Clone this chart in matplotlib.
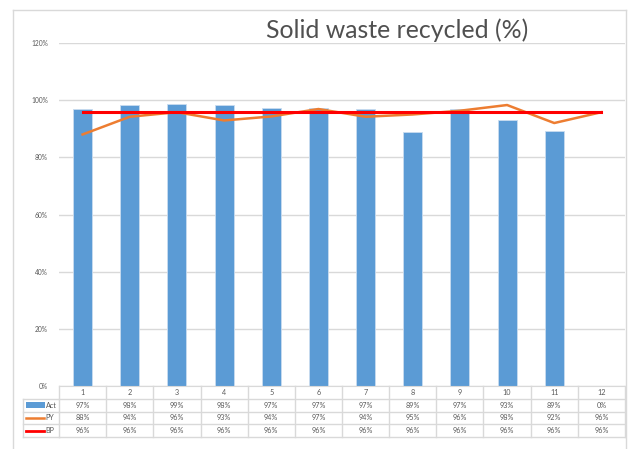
import numpy as np
from matplotlib import pyplot as plt
from matplotlib.transforms import blended_transform_factory
from matplotlib.lines import Line2D
from matplotlib.patches import Rectangle

plt.rcParams['font.family'] = ['Lato', 'DejaVu Sans']

# data
months = ['1', '2', '3', '4', '5', '6', '7', '8', '9', '10', '11', '12']
act = [96.9, 98.3, 98.6, 98.3, 97.2, 97.2, 96.9, 88.9, 97.0, 93.2, 89.2, 0.0]
py = [88.0, 94.2, 95.8, 92.9, 94.3, 96.9, 94.2, 95.0, 96.3, 98.3, 92.0, 95.8]
bp = [95.8] * 12
yticks = [0, 20, 40, 60, 80, 100, 120]

W, H = 631, 449
txt = '#595959'
grid = '#d9d9d9'

def fx(p):
    return p / W

def fy(p):
    return 1 - p / H

fig = plt.figure(figsize=(W / 100, H / 100), dpi=100)

# chart frame
fig.add_artist(Line2D([fx(13), fx(626)], [fy(10), fy(10)], color=grid, lw=1))
fig.add_artist(Line2D([fx(13), fx(13)], [fy(10), fy(452)], color=grid, lw=1))
fig.add_artist(Line2D([fx(626), fx(626)], [fy(10), fy(452)], color=grid, lw=1))

ax = fig.add_axes([fx(59), fy(386), fx(625) - fx(59), fy(43) - fy(386)])
x = np.arange(len(months))
ax.bar(x, act, width=0.4, color='#5B9BD5', edgecolor='#c9dcf0', linewidth=0.6, zorder=2)
ax.plot(x, py, color='#ED7D31', lw=1.8, zorder=3)
ax.plot(x, bp, color='#FF0000', lw=2.2, zorder=4)

ax.set_xlim(-0.5, len(months) - 0.5)
ax.set_ylim(0, 120)
ax.set_yticks(yticks)
ax.set_yticklabels([f'{v}%' for v in yticks])
ax.tick_params(axis='y', length=0, labelsize=4.8, labelcolor=txt, pad=8)
ax.set_xticks([])
ax.grid(axis='y', color=grid, lw=1, zorder=0)
for s in ['top', 'right', 'left']:
    ax.spines[s].set_visible(False)
ax.spines['bottom'].set_color(grid)

fig.text(fx(397.5), fy(30), 'Solid waste recycled (%)', ha='center', va='center',
         fontsize=17.9, color='#505050')

# data table below the axis
tr = blended_transform_factory(ax.transData, fig.transFigure)
rows = [386, 399, 412, 424, 437]
edges = np.arange(len(months) + 1) - 0.5
for r in rows[1:]:
    fig.add_artist(Line2D([fx(23), fx(59)], [fy(r), fy(r)], color=grid, lw=1))
    ax.add_line(Line2D([edges[0], edges[-1]], [fy(r), fy(r)], color=grid, lw=1,
                       transform=tr, clip_on=False))
for e in edges:
    ax.add_line(Line2D([e, e], [fy(386), fy(437)], color=grid, lw=1,
                       transform=tr, clip_on=False))
fig.add_artist(Line2D([fx(23), fx(23)], [fy(399), fy(437)], color=grid, lw=1))

for i, m in enumerate(months):
    ax.text(i, fy(392.5), m, transform=tr, ha='center', va='center', fontsize=5.2, color=txt)
series = [act, py, bp]
for k, vals in enumerate(series):
    yc = (rows[k + 1] + rows[k + 2]) / 2
    for i, v in enumerate(vals):
        ax.text(i, fy(yc), f'{round(v)}%', transform=tr, ha='center', va='center',
                fontsize=5.2, color=txt)

# legend keys in the table
fig.add_artist(Rectangle((fx(26), fy(407.5)), fx(45) - fx(26), fy(402) - fy(407.5),
                         color='#5B9BD5', lw=0))
fig.add_artist(Line2D([fx(26), fx(44)], [fy(418), fy(418)], color='#ED7D31', lw=1.8))
fig.add_artist(Line2D([fx(26), fx(44)], [fy(430.5), fy(430.5)], color='#FF0000', lw=2))
for name, yc in zip(['Act', 'PY', 'BP'], [405.5, 418, 430.5]):
    fig.text(fx(45.5), fy(yc), name, ha='left', va='center', fontsize=5.2, color=txt)

fig.savefig('out.png', dpi=100)
